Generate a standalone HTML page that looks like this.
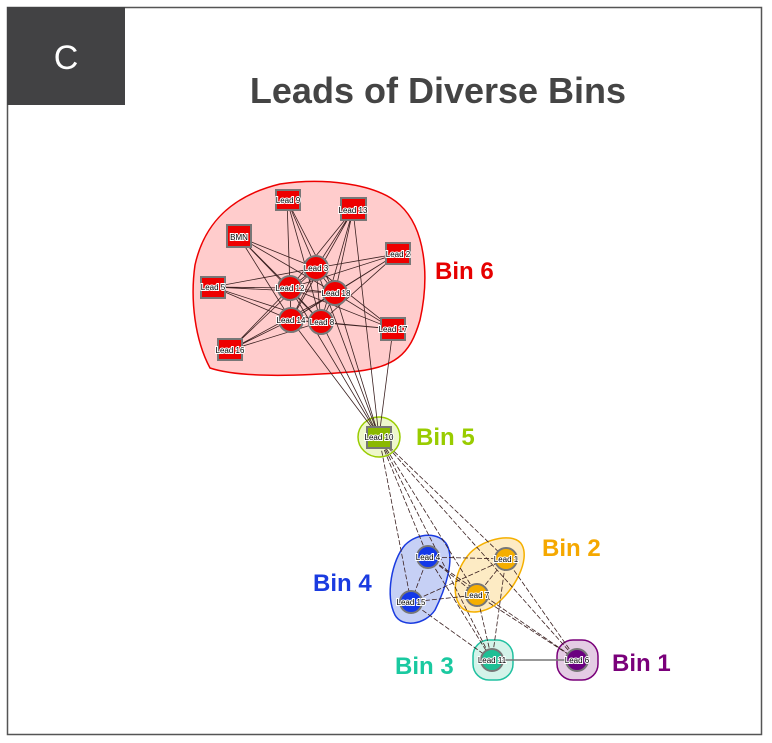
<!DOCTYPE html>
<html><head><meta charset="utf-8"><style>
body{margin:0;background:#fff;}
svg{display:block;font-family:"Liberation Sans",sans-serif;}
</style></head><body>
<svg width="772" height="743" viewBox="0 0 772 743" xmlns="http://www.w3.org/2000/svg">
<rect x="7.5" y="7.5" width="754" height="727" fill="#fff" stroke="#555" stroke-width="1.5"/>
<rect x="7" y="7" width="118" height="98" fill="#424244"/>
<text x="66" y="69" fill="#fff" font-size="34" text-anchor="middle">C</text>
<text x="438" y="103" fill="#444" font-size="36" font-weight="bold" text-anchor="middle">Leads of Diverse Bins</text>

<!-- hulls -->
<path d="M210,368 C195,340 190,300 195,265 C205,220 235,195 280,184 C320,178 375,182 400,205 C425,228 430,275 420,320 C410,355 395,368 350,372 C300,376 240,378 210,368 Z" fill="#ffcccc" stroke="#e00" stroke-width="1.5"/>
<ellipse cx="379" cy="437" rx="21" ry="20" fill="#eef7cc" stroke="#99cc00" stroke-width="1.5"/>
<path d="M395,615 C385,595 392,560 405,545 C418,532 440,532 447,545 C455,560 445,590 435,610 C425,625 402,628 395,615 Z" fill="#c6d0f5" stroke="#1a3be0" stroke-width="1.5"/>
<path d="M462,608 C450,595 455,570 470,553 C485,538 515,532 522,545 C530,560 515,590 495,605 C485,612 470,615 462,608 Z" fill="#fdebc4" stroke="#f5b000" stroke-width="1.5"/>
<rect x="473" y="640" width="40" height="40" rx="16" fill="#d4f3e9" stroke="#20c0a0" stroke-width="1.5"/>
<rect x="557" y="640" width="41" height="40" rx="16" fill="#e4cce4" stroke="#7a007a" stroke-width="1.5"/>

<!-- edges -->
<g stroke="#3a2020" stroke-width="0.8" fill="none" id="e">
<path d="M287,200L316,268M287,200L290,288M287,200L335,293M287,200L321,322M287,200L291,320
M353,210L316,268M353,210L290,288M353,210L335,293M353,210L291,320M353,210L321,322
M239,237L316,268M239,237L290,288M239,237L335,293M239,237L321,322M239,237L291,320
M397,254L316,268M397,254L290,288M397,254L335,293M397,254L291,320M397,254L321,322
M213,287L316,268M213,287L290,288M213,287L335,293M213,287L291,320M213,287L321,322
M393,329L316,268M393,329L290,288M393,329L335,293M393,329L291,320M393,329L321,322
M230,350L316,268M230,350L290,288M230,350L335,293M230,350L291,320M230,350L321,322
M316,268L290,288M316,268L335,293M316,268L291,320M316,268L321,322M290,288L335,293M290,288L291,320M290,288L321,322M335,293L291,320M335,293L321,322M291,320L321,322
M316,268L379,437M290,288L379,437M335,293L379,437M291,320L379,437M321,322L379,437M353,210L379,437M393,329L379,437"/>
<path stroke-dasharray="5,2" d="M379,437L428,557M379,437L411,602M379,437L506,559M379,437L477,595M379,437L492,660M379,437L577,660
M428,557L506,559M428,557L477,595M428,557L411,602M428,557L492,660M411,602L506,559M411,602L477,595M411,602L492,660
M506,559L477,595M506,559L492,660M477,595L492,660M506,559L577,660M477,595L577,660M428,557L577,660"/>
<path stroke="#777" stroke-width="1.5" d="M492,660L577,660"/>
</g>

<!-- nodes -->
<g stroke="#777" stroke-width="2">
<rect x="276" y="190" width="24" height="20" fill="#e00"/>
<rect x="341" y="198" width="25" height="22" fill="#e00"/>
<rect x="227" y="225" width="24" height="22" fill="#e00"/>
<rect x="386" y="243" width="24" height="21" fill="#e00"/>
<rect x="201" y="277" width="24" height="21" fill="#e00"/>
<rect x="381" y="318" width="24" height="22" fill="#e00"/>
<rect x="218" y="339" width="24" height="21" fill="#e00"/>
<circle cx="316" cy="268" r="12" fill="#e00"/>
<circle cx="290" cy="288" r="12" fill="#e00"/>
<circle cx="335" cy="293" r="12" fill="#e00"/>
<circle cx="291" cy="320" r="12" fill="#e00"/>
<circle cx="321" cy="322" r="12" fill="#e00"/>
<rect x="367" y="427" width="24" height="21" fill="#8ab800"/>
<circle cx="428" cy="557" r="11" fill="#1438e8"/>
<circle cx="411" cy="602" r="11" fill="#1438e8"/>
<circle cx="506" cy="559" r="11" fill="#f5ae00"/>
<circle cx="477" cy="595" r="11" fill="#f5ae00"/>
<circle cx="492" cy="660" r="11" fill="#1fbf95"/>
<circle cx="577" cy="660" r="11" fill="#6b0080"/>
</g>
<g font-size="8" fill="#000" text-anchor="middle" stroke="#fff" stroke-width="2" paint-order="stroke">
<text x="288" y="203">Lead 9</text><text x="353" y="213">Lead 13</text><text x="239" y="240">BMN</text>
<text x="398" y="257">Lead 2</text><text x="213" y="290">Lead 5</text><text x="393" y="332">Lead 17</text>
<text x="230" y="353">Lead 16</text><text x="316" y="271">Lead 3</text><text x="290" y="291">Lead 12</text>
<text x="336" y="296">Lead 18</text><text x="291" y="323">Lead 14</text><text x="322" y="325">Lead 8</text>
<text x="379" y="440">Lead 10</text><text x="428" y="560">Lead 4</text><text x="411" y="605">Lead 15</text>
<text x="506" y="562">Lead 1</text><text x="477" y="598">Lead 7</text><text x="492" y="663">Lead 11</text>
<text x="577" y="663">Lead 6</text>
</g>

<g font-size="24" font-weight="bold">
<text x="435" y="279" fill="#e60000">Bin 6</text>
<text x="416" y="445" fill="#99cc00">Bin 5</text>
<text x="542" y="556" fill="#f5a800">Bin 2</text>
<text x="313" y="591" fill="#1a3be0">Bin 4</text>
<text x="395" y="674" fill="#1ac9a0">Bin 3</text>
<text x="612" y="671" fill="#7a007a">Bin 1</text>
</g>
</svg>
</body></html>
